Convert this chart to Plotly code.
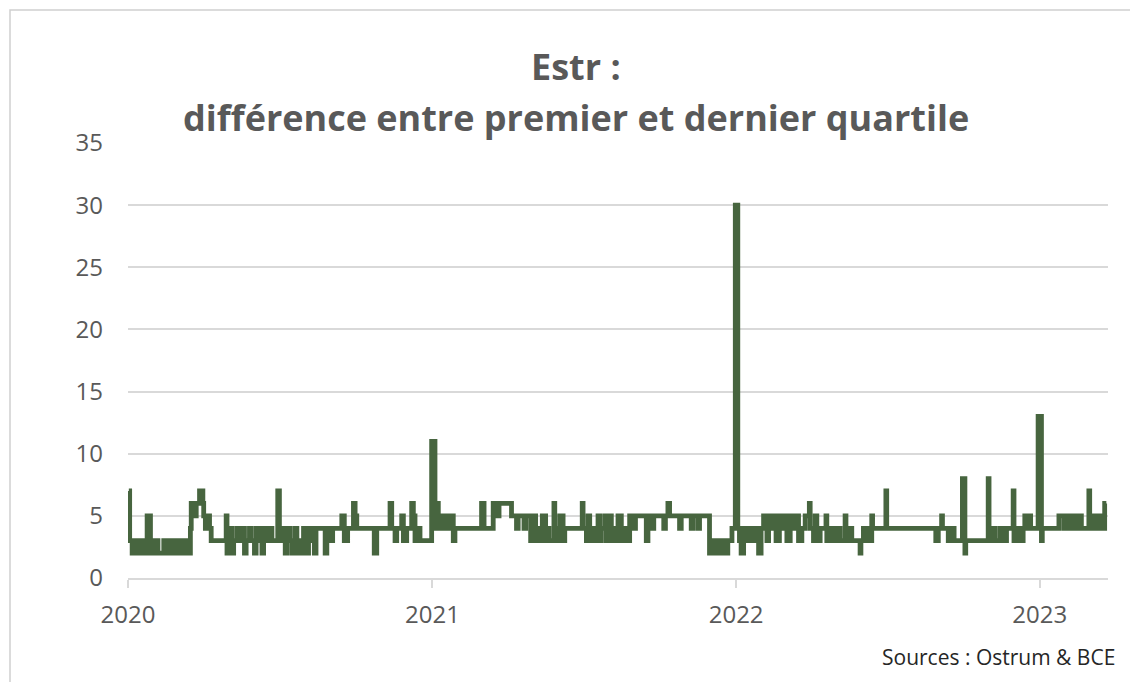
import plotly.graph_objects as go

# ---- data ----
dates = [
    "2020-01-02","2020-01-03","2020-01-06","2020-01-08","2020-01-09","2020-01-13","2020-01-15","2020-01-17",
    "2020-01-20","2020-01-24","2020-01-28","2020-01-30","2020-02-03","2020-02-05","2020-02-06","2020-02-13",
    "2020-02-17","2020-02-19","2020-02-24","2020-02-26","2020-03-02","2020-03-04","2020-03-06","2020-03-10",
    "2020-03-12","2020-03-16","2020-03-17","2020-03-20","2020-03-23","2020-03-27","2020-03-31","2020-04-01",
    "2020-04-03","2020-04-06","2020-04-08","2020-04-10","2020-04-28","2020-04-29","2020-05-01","2020-05-05",
    "2020-05-07","2020-05-11","2020-05-13","2020-05-18","2020-05-20","2020-05-22","2020-05-26","2020-05-28",
    "2020-06-01","2020-06-03","2020-06-08","2020-06-10","2020-06-12","2020-06-16","2020-06-18","2020-06-22",
    "2020-06-29","2020-07-01","2020-07-02","2020-07-06","2020-07-08","2020-07-10","2020-07-14","2020-07-16",
    "2020-07-20","2020-07-22","2020-07-24","2020-07-28","2020-07-30","2020-08-03","2020-08-05","2020-08-07",
    "2020-08-12","2020-08-14","2020-08-25","2020-08-27","2020-09-01","2020-09-03","2020-09-14","2020-09-17",
    "2020-09-21","2020-09-28","2020-09-30","2020-10-02","2020-10-23","2020-10-26","2020-11-11","2020-11-13",
    "2020-11-17","2020-11-19","2020-11-25","2020-11-27","2020-12-01","2020-12-07","2020-12-09","2020-12-11",
    "2020-12-15","2020-12-17","2020-12-31",
    "2021-01-04","2021-01-06","2021-01-08","2021-01-11","2021-01-13","2021-01-15","2021-01-18","2021-01-20",
    "2021-01-22","2021-01-26","2021-01-28","2021-03-01","2021-03-04","2021-03-15","2021-03-19","2021-03-22",
    "2021-04-06","2021-04-12","2021-04-14","2021-04-21","2021-04-23","2021-04-29","2021-05-03","2021-05-05",
    "2021-05-07","2021-05-11","2021-05-13","2021-05-17","2021-05-19","2021-05-21","2021-05-27","2021-05-28",
    "2021-06-01","2021-06-03","2021-06-07","2021-06-09","2021-06-30","2021-07-01","2021-07-05","2021-07-07",
    "2021-07-09","2021-07-13","2021-07-15","2021-07-19","2021-07-21","2021-07-23","2021-07-27","2021-07-29",
    "2021-08-02","2021-08-04","2021-08-06","2021-08-10","2021-08-12","2021-08-16","2021-08-20","2021-08-24",
    "2021-08-26","2021-08-31","2021-09-02","2021-09-15","2021-09-17","2021-09-22","2021-09-24","2021-10-06",
    "2021-10-08","2021-10-11","2021-10-13","2021-10-25","2021-10-27","2021-11-08","2021-11-10","2021-11-16",
    "2021-11-18","2021-11-30","2021-12-03","2021-12-06","2021-12-09","2021-12-13","2021-12-16","2021-12-20",
    "2021-12-22","2021-12-27","2021-12-31",
    "2022-01-03","2022-01-05","2022-01-07","2022-01-10","2022-01-12","2022-01-17","2022-01-20","2022-01-24",
    "2022-01-28","2022-01-31","2022-02-03","2022-02-07","2022-02-09","2022-02-11","2022-02-15","2022-02-18",
    "2022-02-22","2022-02-24","2022-03-01","2022-03-03","2022-03-07","2022-03-11","2022-03-15","2022-03-17",
    "2022-03-21","2022-03-25","2022-03-30","2022-03-31","2022-04-04","2022-04-06","2022-04-08","2022-04-12",
    "2022-04-19","2022-04-20","2022-04-25","2022-04-28","2022-05-03","2022-05-06","2022-05-12","2022-05-13",
    "2022-05-17","2022-05-20","2022-05-30","2022-05-31","2022-06-03","2022-06-08","2022-06-13","2022-06-14",
    "2022-06-30","2022-07-01","2022-08-29","2022-09-01","2022-09-05","2022-09-06","2022-09-13","2022-09-16",
    "2022-09-20","2022-09-30","2022-10-03","2022-10-04","2022-10-31","2022-11-01","2022-11-04","2022-11-08",
    "2022-11-14","2022-11-17","2022-11-22","2022-11-30","2022-12-01","2022-12-05","2022-12-08","2022-12-12",
    "2022-12-14","2022-12-15","2022-12-20","2022-12-21","2022-12-30",
    "2023-01-03","2023-01-04","2023-01-24","2023-01-30","2023-02-03","2023-02-06","2023-02-10","2023-02-13",
    "2023-02-16","2023-02-20","2023-03-01","2023-03-02","2023-03-06","2023-03-08","2023-03-13","2023-03-15",
    "2023-03-20","2023-03-22",
]
values = [
    7,3,2,3,2,3,2,3,
    2,5,2,3,2,3,2,3,
    2,3,2,3,2,3,2,3,
    2,4,6,5,6,7,6,5,
    4,5,4,3,5,2,4,2,
    3,4,3,4,2,3,4,3,
    2,4,3,2,4,3,4,3,
    7,4,3,4,2,4,3,2,
    4,2,3,2,4,2,3,4,
    2,4,2,4,3,4,5,3,
    4,6,5,4,2,4,6,4,
    3,4,5,3,4,6,5,3,
    4,3,11,
    4,6,5,4,5,4,5,4,
    5,3,4,6,4,6,5,6,
    5,4,5,4,5,3,5,3,
    4,3,5,3,4,3,6,4,
    3,5,3,4,6,4,3,5,
    3,4,3,5,3,4,5,3,
    5,3,4,3,5,3,4,3,
    5,4,5,3,5,4,5,4,
    5,6,5,4,5,4,5,4,
    5,2,3,2,3,2,3,2,
    3,4,30,
    4,3,2,4,3,4,3,4,
    2,4,5,3,5,4,5,3,
    5,4,5,3,5,4,5,3,
    4,5,6,4,3,5,3,4,
    5,3,4,3,4,3,5,3,
    4,3,2,3,4,3,5,4,
    7,4,3,4,5,4,3,4,
    3,8,2,3,8,3,4,3,
    4,3,4,7,3,4,3,4,
    5,4,5,4,13,
    3,4,5,4,5,4,5,4,
    5,4,7,4,5,4,5,4,
    6,6,
]

y_ticks = [0, 5, 10, 15, 20, 25, 30, 35]
x_ticks = ["2020-01-01", "2021-01-01", "2022-01-01", "2023-01-01"]
x_tick_labels = ["2020", "2021", "2022", "2023"]

title_line1 = "Estr :"
title_line2 = "différence entre premier et dernier quartile"
source_text = "Sources : Ostrum & BCE"

LINE = "#47653f"
GRID = "#d9d9d9"
TXT = "#595959"
FONT = "'Open Sans', Lato, sans-serif"

fig = go.Figure()
fig.add_trace(go.Scatter(
    x=dates, y=values, mode="lines", line=dict(color=LINE, width=4.8, shape="hv"),
    hoverinfo="x+y", showlegend=False,
))

fig.update_layout(
    width=1130, height=682,
    margin=dict(l=128, r=22, t=143, b=104),
    paper_bgcolor="white", plot_bgcolor="white",
    font=dict(family=FONT, color=TXT, size=24),
    showlegend=False,
)
fig.update_xaxes(
    type="date", range=["2020-01-01", "2023-03-24"],
    tickvals=x_ticks, ticktext=x_tick_labels,
    showgrid=False, showline=True, linecolor=GRID, linewidth=1.5,
    ticks="outside", ticklen=8, tickcolor=GRID, tickwidth=1.5,
    ticklabelstandoff=6,
    tickfont=dict(family=FONT, size=24, color=TXT),
    zeroline=False,
)
fig.update_yaxes(
    range=[0, 35], tickvals=y_ticks,
    showgrid=True, gridcolor=GRID, gridwidth=1.5,
    showline=False, zeroline=False, ticks="",
    ticklabelstandoff=24,
    tickfont=dict(family=FONT, size=24, color=TXT),
)

fig.add_annotation(text=f"<b>{title_line1}</b>", xref="paper", yref="paper",
                   x=(576 - 128) / 980, y=(578 - 66) / 435, xanchor="center", yanchor="middle",
                   showarrow=False, font=dict(family=FONT, size=36, color=TXT))
fig.add_annotation(text=f"<b>{title_line2}</b>", xref="paper", yref="paper",
                   x=(576 - 128) / 980, y=(578 - 117) / 435, xanchor="center", yanchor="middle",
                   showarrow=False, font=dict(family=FONT, size=36, color=TXT))
fig.add_annotation(text=source_text, xref="paper", yref="paper",
                   x=(1117 - 128) / 980, y=(578 - 657) / 435, xanchor="right", yanchor="middle",
                   showarrow=False, font=dict(family=FONT, size=21, color="#262626"))

fig.add_shape(type="rect", xref="paper", yref="paper",
              x0=(10 - 128) / 980, x1=1.1, y0=-0.4, y1=(578 - 10) / 435,
              line=dict(color="#d0d0d0", width=1.5), fillcolor="rgba(0,0,0,0)", layer="below")

fig.write_html("out.html", config={"displayModeBar": False},
               post_script="document.body.style.margin='0';")
